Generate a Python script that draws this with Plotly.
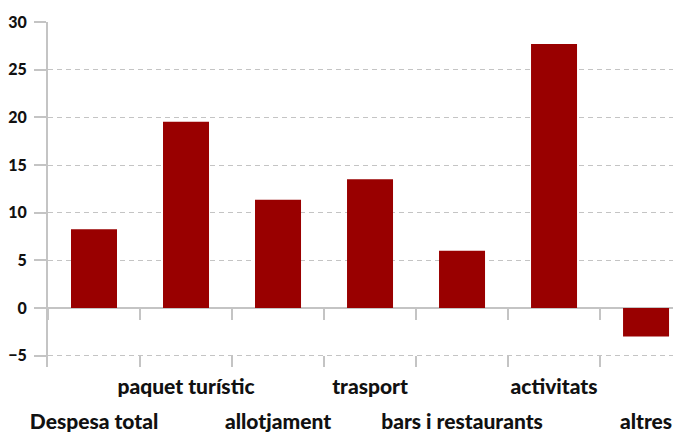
import plotly.graph_objects as go

# ── Data ───────────────────────────────────────────────────────────────────────
categories = ["Despesa total", "paquet turístic", "allotjament", "trasport",
              "bars i restaurants", "activitats", "altres"]
values = [8.25, 19.55, 11.35, 13.5, 6.0, 27.7, -3.0]
y_ticks = [-5, 0, 5, 10, 15, 20, 25, 30]

_RED = "#990000"
_GRID = "#c4c4c4"
_TEXT = "#111111"
_FONT = "Lato, Roboto, sans-serif"

y_range = [-6.2, 30.02]
x_range = [-0.5, 6.38]
zero_pos = (0 - y_range[0]) / (y_range[1] - y_range[0])

# staggered labels: odd ones on the upper row, even ones on the lower row
upper_text = [c if i % 2 == 1 else "" for i, c in enumerate(categories)]
lower_text = [c if i % 2 == 0 else "" for i, c in enumerate(categories)]
label_font = dict(family=_FONT, size=21, color=_TEXT, weight=900)

fig = go.Figure()
fig.add_trace(go.Bar(
    x=categories, y=values, width=0.5,
    marker=dict(color=_RED, line=dict(width=0)),
    showlegend=False, hoverinfo="x+y",
))
# invisible traces so the helper axes know the categories
for ax in ("x2", "x3"):
    fig.add_trace(go.Bar(x=categories, y=[0] * len(categories), xaxis=ax,
                         showlegend=False, hoverinfo="skip",
                         marker=dict(opacity=0)))

fig.update_layout(
    width=673, height=426,
    paper_bgcolor="white", plot_bgcolor="white",
    font=dict(family=_FONT, color=_TEXT, size=20),
    margin=dict(l=40, r=0, t=14, b=67, autoexpand=False),
    bargap=0.5,
    xaxis=dict(
        type="category", range=x_range, automargin=False,
        tickmode="array", tickvals=categories, ticktext=upper_text, tickangle=0,
        tickson="boundaries", ticks="inside", ticklen=11,
        tickcolor=_GRID, tickwidth=1.5,
        showline=False, showgrid=False,
        tickfont=label_font, ticklabelstandoff=5,
    ),
    xaxis3=dict(
        type="category", range=x_range, overlaying="x", anchor="y",
        side="bottom", automargin=False,
        tickmode="array", tickvals=categories, ticktext=lower_text, tickangle=0,
        ticks="", showline=False, showgrid=False,
        tickfont=label_font, ticklabelstandoff=40,
    ),
    xaxis2=dict(
        type="category", range=x_range, overlaying="x",
        anchor="free", position=zero_pos, side="bottom",
        tickson="boundaries", ticks="outside", ticklen=11,
        tickcolor=_GRID, tickwidth=1.5,
        showticklabels=False, showline=False, showgrid=False,
    ),
    yaxis=dict(
        range=y_range, tickmode="array", tickvals=y_ticks, automargin=False,
        ticks="outside", ticklen=12, tickcolor=_GRID, tickwidth=1.5,
        showline=True, linecolor=_GRID, linewidth=2,
        showgrid=True, gridcolor=_GRID, gridwidth=1, griddash="5px,4px",
        zeroline=True, zerolinecolor=_GRID, zerolinewidth=1.5,
        tickfont=dict(family=_FONT, size=16, color=_TEXT, weight=900),
        ticklabelstandoff=4,
    ),
)

fig.write_html("out.html")
